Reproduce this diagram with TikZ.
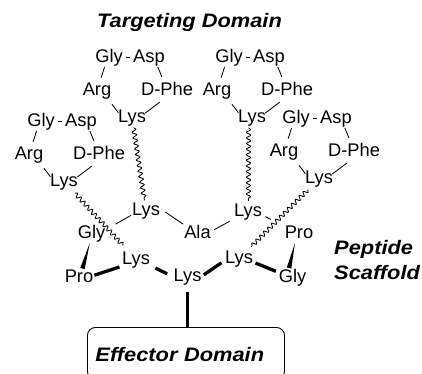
\documentclass[tikz,border=0pt]{standalone}
\usepackage{fontspec}
\setmainfont{Liberation Sans}
\newfontfamily\aafont{Liberation Sans}
\newfontfamily\lblfont{Liberation Sans}[FakeStretch=1.12]
\usetikzlibrary{calc,decorations.pathmorphing}
\begin{document}
\begin{tikzpicture}[x=1pt,y=-1pt,
  aa/.style={anchor=base, inner sep=1pt, text height=12.8pt, text depth=3.7pt, font=\aafont\fontsize{18.3}{21}\selectfont},
  lbl/.style={font=\lblfont\bfseries\itshape\fontsize{19.5}{23}\selectfont, inner sep=0pt},
  bond/.style={line width=0.85pt},
  thickbond/.style={line width=3.3pt},
  wavy/.style={line width=0.85pt, decorate, decoration={snake, amplitude=2.1pt, segment length=5.6pt}},
]
\useasboundingbox (0,0) rectangle (422,373);
\clip (0,0) rectangle (422,373);

% titles
\node[lbl, anchor=base] (tgt) at (189.5,27) {Targeting Domain};
\node[lbl, anchor=base west] (pep) at (334,254) {Peptide};
\node[lbl, anchor=base west] (scf) at (334,279.5) {Scaffold};

% cyclic peptides
\foreach \n/\dx/\dy in {a/0/0, b/-68/64, c/120/0, d/187/61} {
  \begin{scope}[shift={(\dx,\dy)}]
    \node[aa] (gly\n) at (109,62) {Gly};
    \node[aa] (asp\n) at (149,62) {Asp};
    \node[aa] (arg\n) at (97,95) {Arg};
    \node[aa] (phe\n) at (167,95) {D-Phe};
    \node[aa] (lys\n) at (132,122) {Lys};
    \draw[bond, shorten <=2pt, shorten >=2pt] (gly\n.east) -- (asp\n.west);
    \draw[bond, shorten >=3.5pt] (gly\n.245) -- (arg\n.72);
    \draw[bond, shorten >=4.5pt] (asp\n.313) -- (phe\n.110);
    \draw[bond, shorten <=5.5pt, shorten >=-2.5pt] (arg\n.321) -- (lys\n.156);
    \draw[bond, shorten <=3.8pt, shorten >=-2.4pt] (phe\n.246) -- (lys\n.21);
  \end{scope}
}

% scaffold
\node[aa] (lysml) at (146,215) {Lys};
\node[aa] (lysmr) at (248,216) {Lys};
\node[aa] (glyl) at (91.5,238) {Gly};
\node[aa] (ala) at (197.5,238) {Ala};
\node[aa] (prr) at (299,238) {Pro};
\node[aa] (lysll) at (136,264) {Lys};
\node[aa] (lyslr) at (239,263.5) {Lys};
\node[aa] (prol) at (79,282.5) {Pro};
\node[aa] (lyscen) at (187.5,281) {Lys};
\node[aa] (glyr) at (292.5,282) {Gly};

% effector box
\node[draw, line width=0.9pt, rounded corners=8pt, anchor=north west, inner xsep=8pt, inner ysep=0pt,
      text width=181pt, minimum height=52pt, align=left, text height=15.5pt, text depth=0pt,
      font=\lblfont\bfseries\itshape\fontsize{19.5}{23}\selectfont] (eff) at (87,327) {Effector Domain};

% thin bonds
\draw[bond, shorten >=10.8pt] (lysml.198) -- (glyl.15);
\draw[bond, shorten <=5pt] (lysml.5) -- (ala.147);
\draw[bond, shorten <=2.5pt, shorten >=3.5pt] (ala.10) -- (lysmr.208);
\draw[bond, shorten <=2.5pt, shorten >=14pt] (lysmr.345) -- (prr.153);

% thick bonds
\draw[thickbond, shorten >=1.5pt] (prol.10) -- (lysll.205);
\draw[thickbond, shorten <=4.8pt, shorten >=6pt] (lysll.337) -- (lyscen.180);
\draw[thickbond, shorten <=1.4pt, shorten >=3pt] (lyscen.3) -- (lyslr.188);
\draw[thickbond, shorten <=1.5pt, shorten >=1.8pt] (lyslr.347) -- (glyr.160);
\draw[line width=3pt, shorten <=6pt] (lyscen.south) -- (lyscen.south |- eff.north);

% wedges
\fill (glyl.260) -- ($(prol.70)!2.3pt!90:(glyl.260)$) -- ($(prol.70)!2.3pt!-90:(glyl.260)$) -- cycle;
\fill (prr.247) -- ($(glyr.110)!2.3pt!90:(prr.247)$) -- ($(glyr.110)!2.3pt!-90:(prr.247)$) -- cycle;

% wavy linkers
\draw[wavy] ($(lysa)!0.11!(lysml)$) -- ($(lysa)!0.89!(lysml)$);
\draw[wavy] ($(lysc)!0.11!(lysmr)+(-3,0)$) -- ($(lysc)!0.89!(lysmr)$);
\draw[wavy] ($(lysb)!0.15!(lysll)$) -- ($(lysb)!0.82!(lysll)$);
\draw[wavy] ($(lysd)!0.14!(lyslr)$) -- ($(lysd)!0.85!(lyslr)$);
\end{tikzpicture}
\end{document}
